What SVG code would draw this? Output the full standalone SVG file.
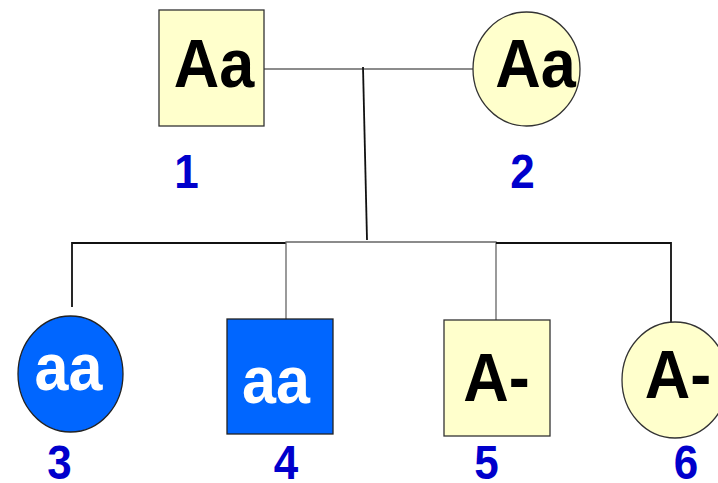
<svg xmlns="http://www.w3.org/2000/svg" width="718" height="483" viewBox="0 0 718 483">
<style>
.yl{fill:#FFFFCC;stroke:#333;stroke-width:1.3}
.bl{fill:#0066FF;stroke:#222;stroke-width:1.3}
.g{font-family:"Liberation Sans",Arial,sans-serif;font-weight:bold;text-anchor:middle;font-size:63px}
.w{fill:#fff;font-size:61px}
.k{fill:#000}
.n{font-family:"Liberation Sans",Arial,sans-serif;font-weight:bold;text-anchor:middle;font-size:44px;fill:#0000CC}
.ln{fill:none;stroke:#111;stroke-width:1.8}
.lg{fill:none;stroke:#666;stroke-width:1.3}
</style>
<rect width="718" height="483" fill="#fff"/>
<g id="connectors">
<line class="lg" x1="264" y1="69" x2="473" y2="69"/>
<line class="ln" x1="363" y1="67" x2="367" y2="240"/>
<polyline class="ln" points="72,307 72,243 286,243"/>
<polyline class="lg" points="286,320 286,242 496,242 496,320"/>
<polyline class="ln" points="496,243 671,243 671,323"/>
</g>
<g id="node1"><rect class="yl" x="159" y="10" width="105" height="116"/><text class="g k" transform="translate(214,87) scale(1,1.1)">Aa</text><text class="n" transform="translate(186.5,188) scale(1,1.1)">1</text></g>
<g id="node2"><ellipse class="yl" cx="526.5" cy="69" rx="53.5" ry="57"/><text class="g k" transform="translate(535.5,87) scale(1,1.1)">Aa</text><text class="n" transform="translate(522.5,188) scale(1,1.1)">2</text></g>
<g id="node3"><ellipse class="bl" cx="70.5" cy="374" rx="52.5" ry="58"/><text class="g w" transform="translate(68.5,390) scale(1,1.1)">aa</text><text class="n" transform="translate(59.5,479) scale(1,1.1)">3</text></g>
<g id="node4"><rect class="bl" x="227" y="319" width="106" height="115"/><text class="g w" transform="translate(276,403) scale(1,1.1)">aa</text><text class="n" transform="translate(286,479) scale(1,1.1)">4</text></g>
<g id="node5"><rect class="yl" x="444" y="320" width="106" height="116"/><text class="g k" transform="translate(496.5,401) scale(1,1.1)">A-</text><text class="n" transform="translate(486.5,479) scale(1,1.1)">5</text></g>
<g id="node6"><ellipse class="yl" cx="675" cy="380" rx="53" ry="58"/><text class="g k" transform="translate(678,398) scale(1,1.1)">A-</text><text class="n" transform="translate(686,479) scale(1,1.1)">6</text></g>
</svg>
